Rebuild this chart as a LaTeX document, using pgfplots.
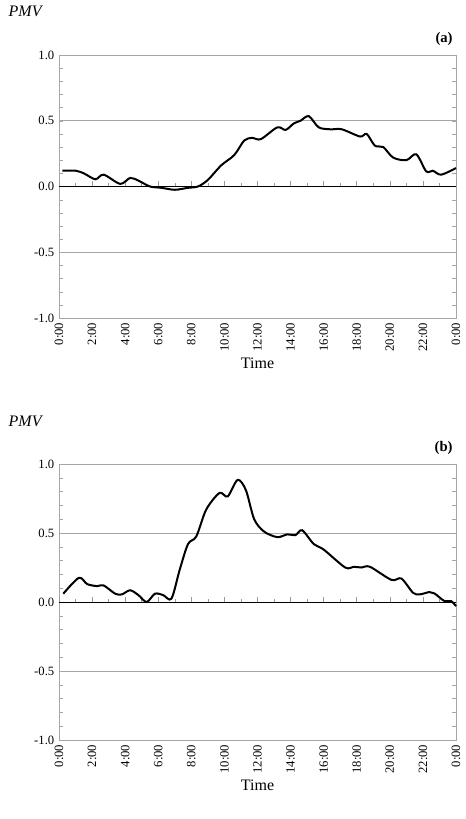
\documentclass[border=0pt]{standalone}
\usepackage{pgfplots}
\pgfplotsset{compat=1.18}
\usepackage{fontspec}
\setmainfont{Liberation Serif}
\pgfplotsset{myax/.style={
  scale only axis, width=297.75pt, xmin=0, xmax=24, ymin=-1, ymax=1,
  axis line style={gray!70}, 
  ytick={-1,-0.5,0,0.5,1}, yticklabels={-1.0,-0.5,0.0,0.5,1.0},
  minor ytick={-0.9,-0.8,...,0.9},
  ymajorgrids, grid style={gray!70, line width=0.6pt},
  ytick style={gray!70}, minor tick length=3pt, major tick length=3pt,
  xtick={0,2,...,24},
  xticklabels={0:00,2:00,4:00,6:00,8:00,10:00,12:00,14:00,16:00,18:00,20:00,22:00,0:00},
  xtick style={draw=none},
  x tick label style={rotate=90, anchor=east},
  tick label style={font=\fontsize{9.5}{11}\selectfont},
  /pgf/number format/assume math mode=true,
  xlabel={Time}, xlabel style={font=\fontsize{12}{14}\selectfont, yshift=2pt},
  clip=false,
}}
\newcommand{\zeroline}{%
  \draw[black, line width=0.5pt] (axis cs:0,0)--(axis cs:24,0);
  \pgfplotsinvokeforeach{0,2,...,24}{\draw[gray!80] (axis cs:##1,0)--([yshift=4pt]axis cs:##1,0);}
  \pgfplotsinvokeforeach{1,3,...,23}{\draw[gray!80] (axis cs:##1,0)--([yshift=2.5pt]axis cs:##1,0);}
}
\begin{document}
\begin{tikzpicture}
\useasboundingbox (0,0) rectangle (349.5pt,614.25pt);
\node[anchor=west, font=\itshape\fontsize{12}{14}\selectfont] at (3pt,606pt) {PMV};
\node[anchor=east, font=\bfseries\fontsize{11}{13}\selectfont] at (343pt,585pt) {(a)};
\node[anchor=west, font=\itshape\fontsize{12}{14}\selectfont] at (3pt,298pt) {PMV};
\node[anchor=east, font=\bfseries\fontsize{11}{13}\selectfont] at (343pt,278pt) {(b)};
\begin{axis}[myax, height=197.25pt, at={(44.25pt,573pt)}, anchor=north west]
\zeroline
\addplot[black, line width=1.5pt, smooth, tension=0.5] coordinates {
(0.2,0.12)(1,0.12)(1.5,0.1)(2.2,0.055)(2.7,0.09)(3.7,0.02)(4.3,0.065)(4.8,0.045)(5.5,0)(6.2,-0.01)(7,-0.025)(7.8,-0.01)(8.4,0)(9,0.05)(9.8,0.16)(10.6,0.24)(11.2,0.35)(11.7,0.37)(12.2,0.36)(13.2,0.45)(13.7,0.43)(14.2,0.48)(14.6,0.5)(15.1,0.535)(15.7,0.45)(16.4,0.435)(17.1,0.435)(18.2,0.38)(18.6,0.4)(19.1,0.31)(19.6,0.3)(20.2,0.22)(21,0.2)(21.6,0.245)(22.2,0.115)(22.6,0.12)(23.1,0.09)(24,0.14)};
\end{axis}
\begin{axis}[myax, height=207pt, at={(44.25pt,266.25pt)}, anchor=north west]
\zeroline
\addplot[black, line width=1.5pt, smooth, tension=0.5] coordinates {
(0.26,0.06)(1.2,0.175)(1.7,0.13)(2.3,0.115)(2.7,0.12)(3.4,0.06)(3.8,0.055)(4.3,0.085)(4.8,0.05)(5.3,0)(5.8,0.06)(6.3,0.05)(6.8,0.025)(7.3,0.235)(7.8,0.42)(8.3,0.475)(8.9,0.67)(9.7,0.79)(10.2,0.765)(10.8,0.885)(11.3,0.81)(11.8,0.6)(12.4,0.51)(13.2,0.47)(13.8,0.49)(14.3,0.485)(14.7,0.52)(15.4,0.42)(16,0.38)(17.3,0.25)(17.8,0.255)(18.3,0.25)(18.8,0.255)(20.1,0.16)(20.7,0.17)(21.4,0.067)(21.8,0.055)(22.4,0.072)(22.7,0.062)(23.3,0.007)(23.7,0.007)(24,-0.03)};
\end{axis}
\end{tikzpicture}
\end{document}
